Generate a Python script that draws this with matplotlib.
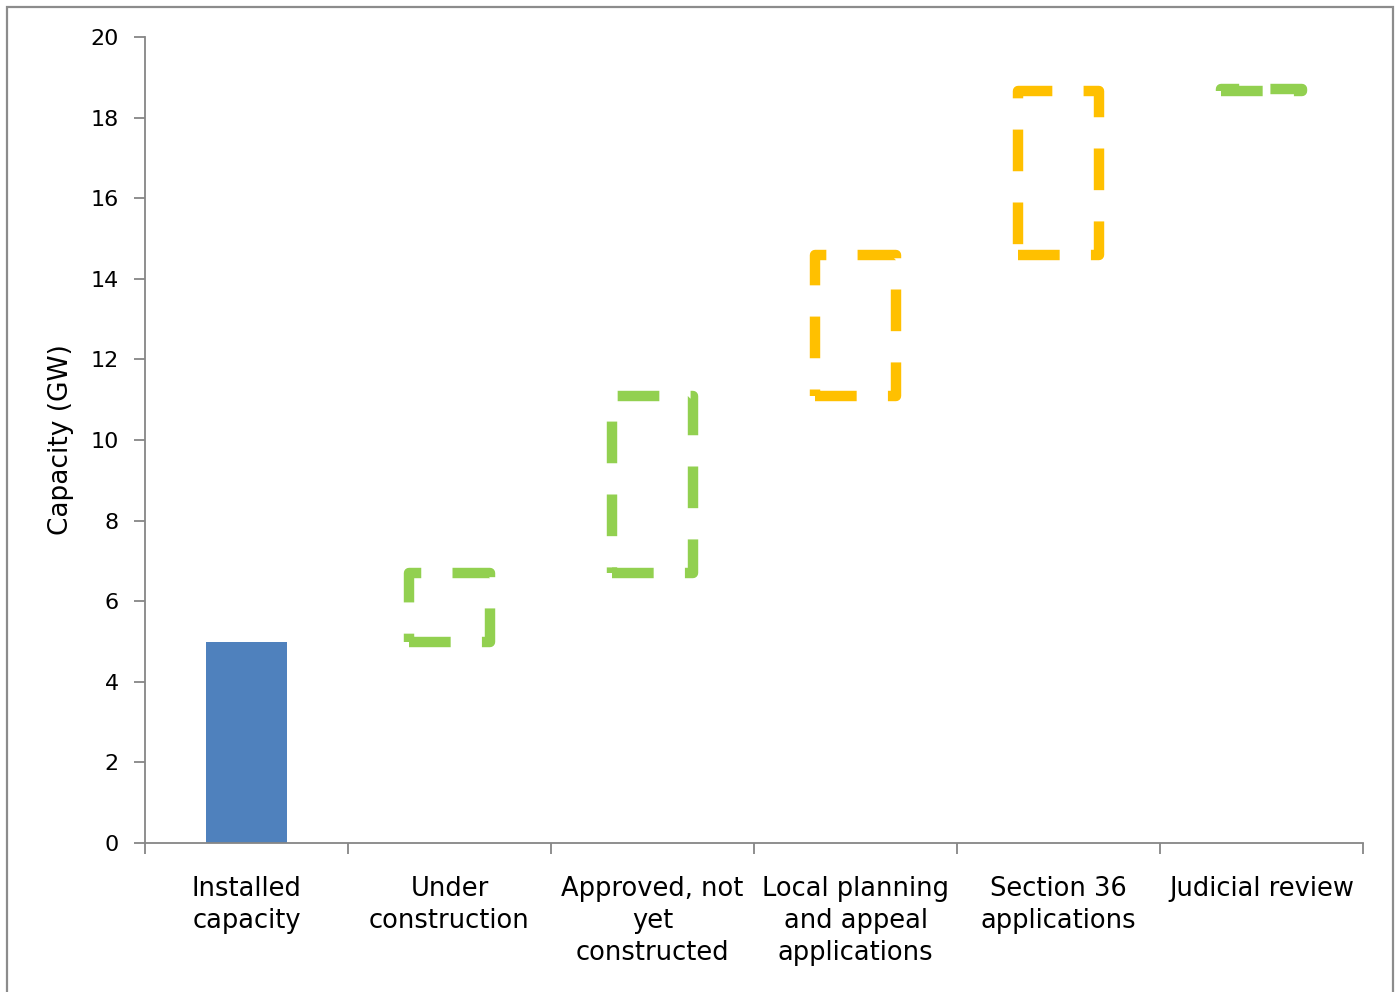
import matplotlib
matplotlib.use("Agg")
import matplotlib.pyplot as plt
from matplotlib.patches import Rectangle

categories = ["Installed\ncapacity", "Under\nconstruction", "Approved, not\nyet\nconstructed",
              "Local planning\nand appeal\napplications", "Section 36\napplications", "Judicial review"]
installed = 5.0
pipeline = [1.7, 4.4, 3.5, 4.05, 0.05]
pipeline_colors = ["#92D050", "#92D050", "#FFC000", "#FFC000", "#92D050"]
yticks = [0, 2, 4, 6, 8, 10, 12, 14, 16, 18, 20]

plt.rcParams["font.family"] = ["DejaVu Sans"]

fig = plt.figure(figsize=(13.98, 9.92), dpi=100)
ax = fig.add_axes([0.1037, 0.1502, 0.8713, 0.8125])

# outer chart frame
fig.patches.append(Rectangle((7 / 1398, -0.05), 1386 / 1398, 1.05 - 7 / 992,
                             transform=fig.transFigure, fill=False,
                             edgecolor="#8C8C8C", linewidth=1.6))

width = 0.4
ax.bar(0, installed, width=width, color="#4F81BD")

bottoms = []
running = installed
for v in pipeline:
    bottoms.append(running)
    running += v

for i, (b, v, c) in enumerate(zip(bottoms, pipeline, pipeline_colors), start=1):
    bars = ax.bar(i, v, bottom=b, width=width, fill=False, edgecolor=c, linewidth=7.5)
    for p in bars:
        p.set_linestyle((0, (4, 3)))
        p.set_joinstyle("round")
        p.set_capstyle("butt")

ax.set_xlim(-0.5, 5.5)
ax.set_ylim(0, 20)
ax.set_yticks(yticks)
ax.set_yticklabels([str(t) for t in yticks], fontsize=16)

ax.set_xticks(range(6))
ax.set_xticklabels(categories, fontsize=18.5, linespacing=1.3)
ax.tick_params(axis="x", length=0, pad=24)

# category boundary ticks
ax.set_xticks([i - 0.5 for i in range(7)], minor=True)
ax.tick_params(axis="x", which="minor", length=8, color="#868686", width=1.3, direction="out")
ax.tick_params(axis="y", length=8, color="#868686", width=1.3, direction="out", pad=11)

for s in ["top", "right"]:
    ax.spines[s].set_visible(False)
for s in ["left", "bottom"]:
    ax.spines[s].set_color("#868686")
    ax.spines[s].set_linewidth(1.3)

ax.set_ylabel("Capacity (GW)", fontsize=19, labelpad=12)

fig.savefig("out.png", dpi=100)
